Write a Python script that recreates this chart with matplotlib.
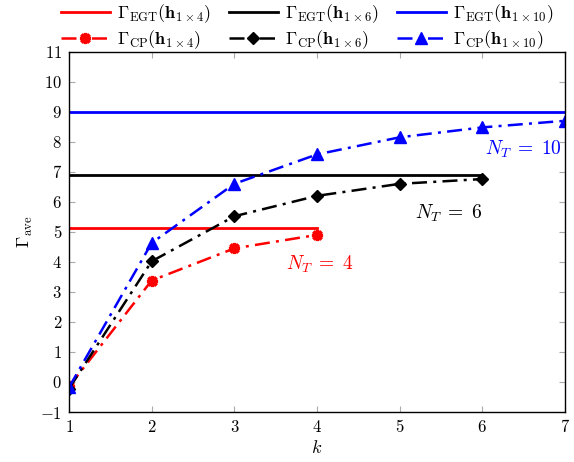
import matplotlib
matplotlib.use("Agg")
import matplotlib.pyplot as plt

plt.rcParams['mathtext.fontset'] = 'cm'
plt.rcParams['font.family'] = ['DejaVu Serif']

k_vals = [1, 2, 3, 4, 5, 6, 7]
egt4 = 5.13
egt6 = 6.90
egt10 = 9.00
cp4 = [-0.15, 3.38, 4.45, 4.90]
cp6 = [-0.22, 4.02, 5.52, 6.20, 6.60, 6.76]
cp10 = [-0.18, 4.63, 6.60, 7.58, 8.15, 8.48, 8.70]
xticks = [1, 2, 3, 4, 5, 6, 7]
yticks = [-1, 0, 1, 2, 3, 4, 5, 6, 7, 8, 9, 10, 11]

red = '#ff0000'
blue = '#0000ff'
black = '#000000'

fig = plt.figure(figsize=(5.74, 4.62), dpi=100)
ax = fig.add_axes([0.1202, 0.1082, 0.8641, 0.7798])

dd = (0, (6, 2.5, 1.2, 2.5))
h1, = ax.plot([1, 4], [egt4, egt4], color=red, lw=2.0)
h2, = ax.plot([1, 6], [egt6, egt6], color=black, lw=2.0)
h3, = ax.plot([1, 7], [egt10, egt10], color=blue, lw=2.0)
h4, = ax.plot(k_vals[:4], cp4, color=red, lw=1.8, ls=dd,
              marker=(8, 2, 0), markersize=8, markeredgewidth=2.4)
h5, = ax.plot(k_vals[:6], cp6, color=black, lw=1.8, ls=dd,
              marker='D', markersize=6.5)
h6, = ax.plot(k_vals, cp10, color=blue, lw=1.8, ls=dd,
              marker='^', markersize=8)

ax.set_xlim(1, 7)
ax.set_ylim(-1, 11)
ax.set_xticks(xticks)
ax.set_xticklabels([f'${v}$' for v in xticks], fontsize=12)
ax.set_yticks(yticks)
ax.set_yticklabels([f'${v}$' for v in yticks], fontsize=12)
ax.tick_params(direction='in', length=4, width=0.8, color='#aaaaaa',
               top=True, right=True, pad=5)
for s in ax.spines.values():
    s.set_linewidth(1.0)

ax.set_xlabel('$k$', fontsize=13, labelpad=2)
ax.set_ylabel(r'$\Gamma_{\rm ave}$', fontsize=13, labelpad=4)

ax.text(3.62, 3.75, r'$N_T\;=\;4$', color=red, fontsize=14)
ax.text(5.18, 5.43, r'$N_T\;=\;6$', color=black, fontsize=14)
ax.text(6.03, 7.57, r'$N_T\;=\;10$', color=blue, fontsize=14)

labels = [r'$\Gamma_{\rm EGT}(\mathbf{h}_{\mathbf{1\times 4}})$',
          r'$\Gamma_{\rm CP}(\mathbf{h}_{\mathbf{1\times 4}})$',
          r'$\Gamma_{\rm EGT}(\mathbf{h}_{\mathbf{1\times 6}})$',
          r'$\Gamma_{\rm CP}(\mathbf{h}_{\mathbf{1\times 6}})$',
          r'$\Gamma_{\rm EGT}(\mathbf{h}_{\mathbf{1\times 10}})$',
          r'$\Gamma_{\rm CP}(\mathbf{h}_{\mathbf{1\times 10}})$']
fig.legend([h1, h4, h2, h5, h3, h6], labels, ncol=3, frameon=False,
           loc='upper center', bbox_to_anchor=(0.535, 1.03), fontsize=13,
           handlelength=2.7, columnspacing=1.0, handletextpad=0.4,
           labelspacing=0.2)

fig.savefig('out.png', dpi=100)
